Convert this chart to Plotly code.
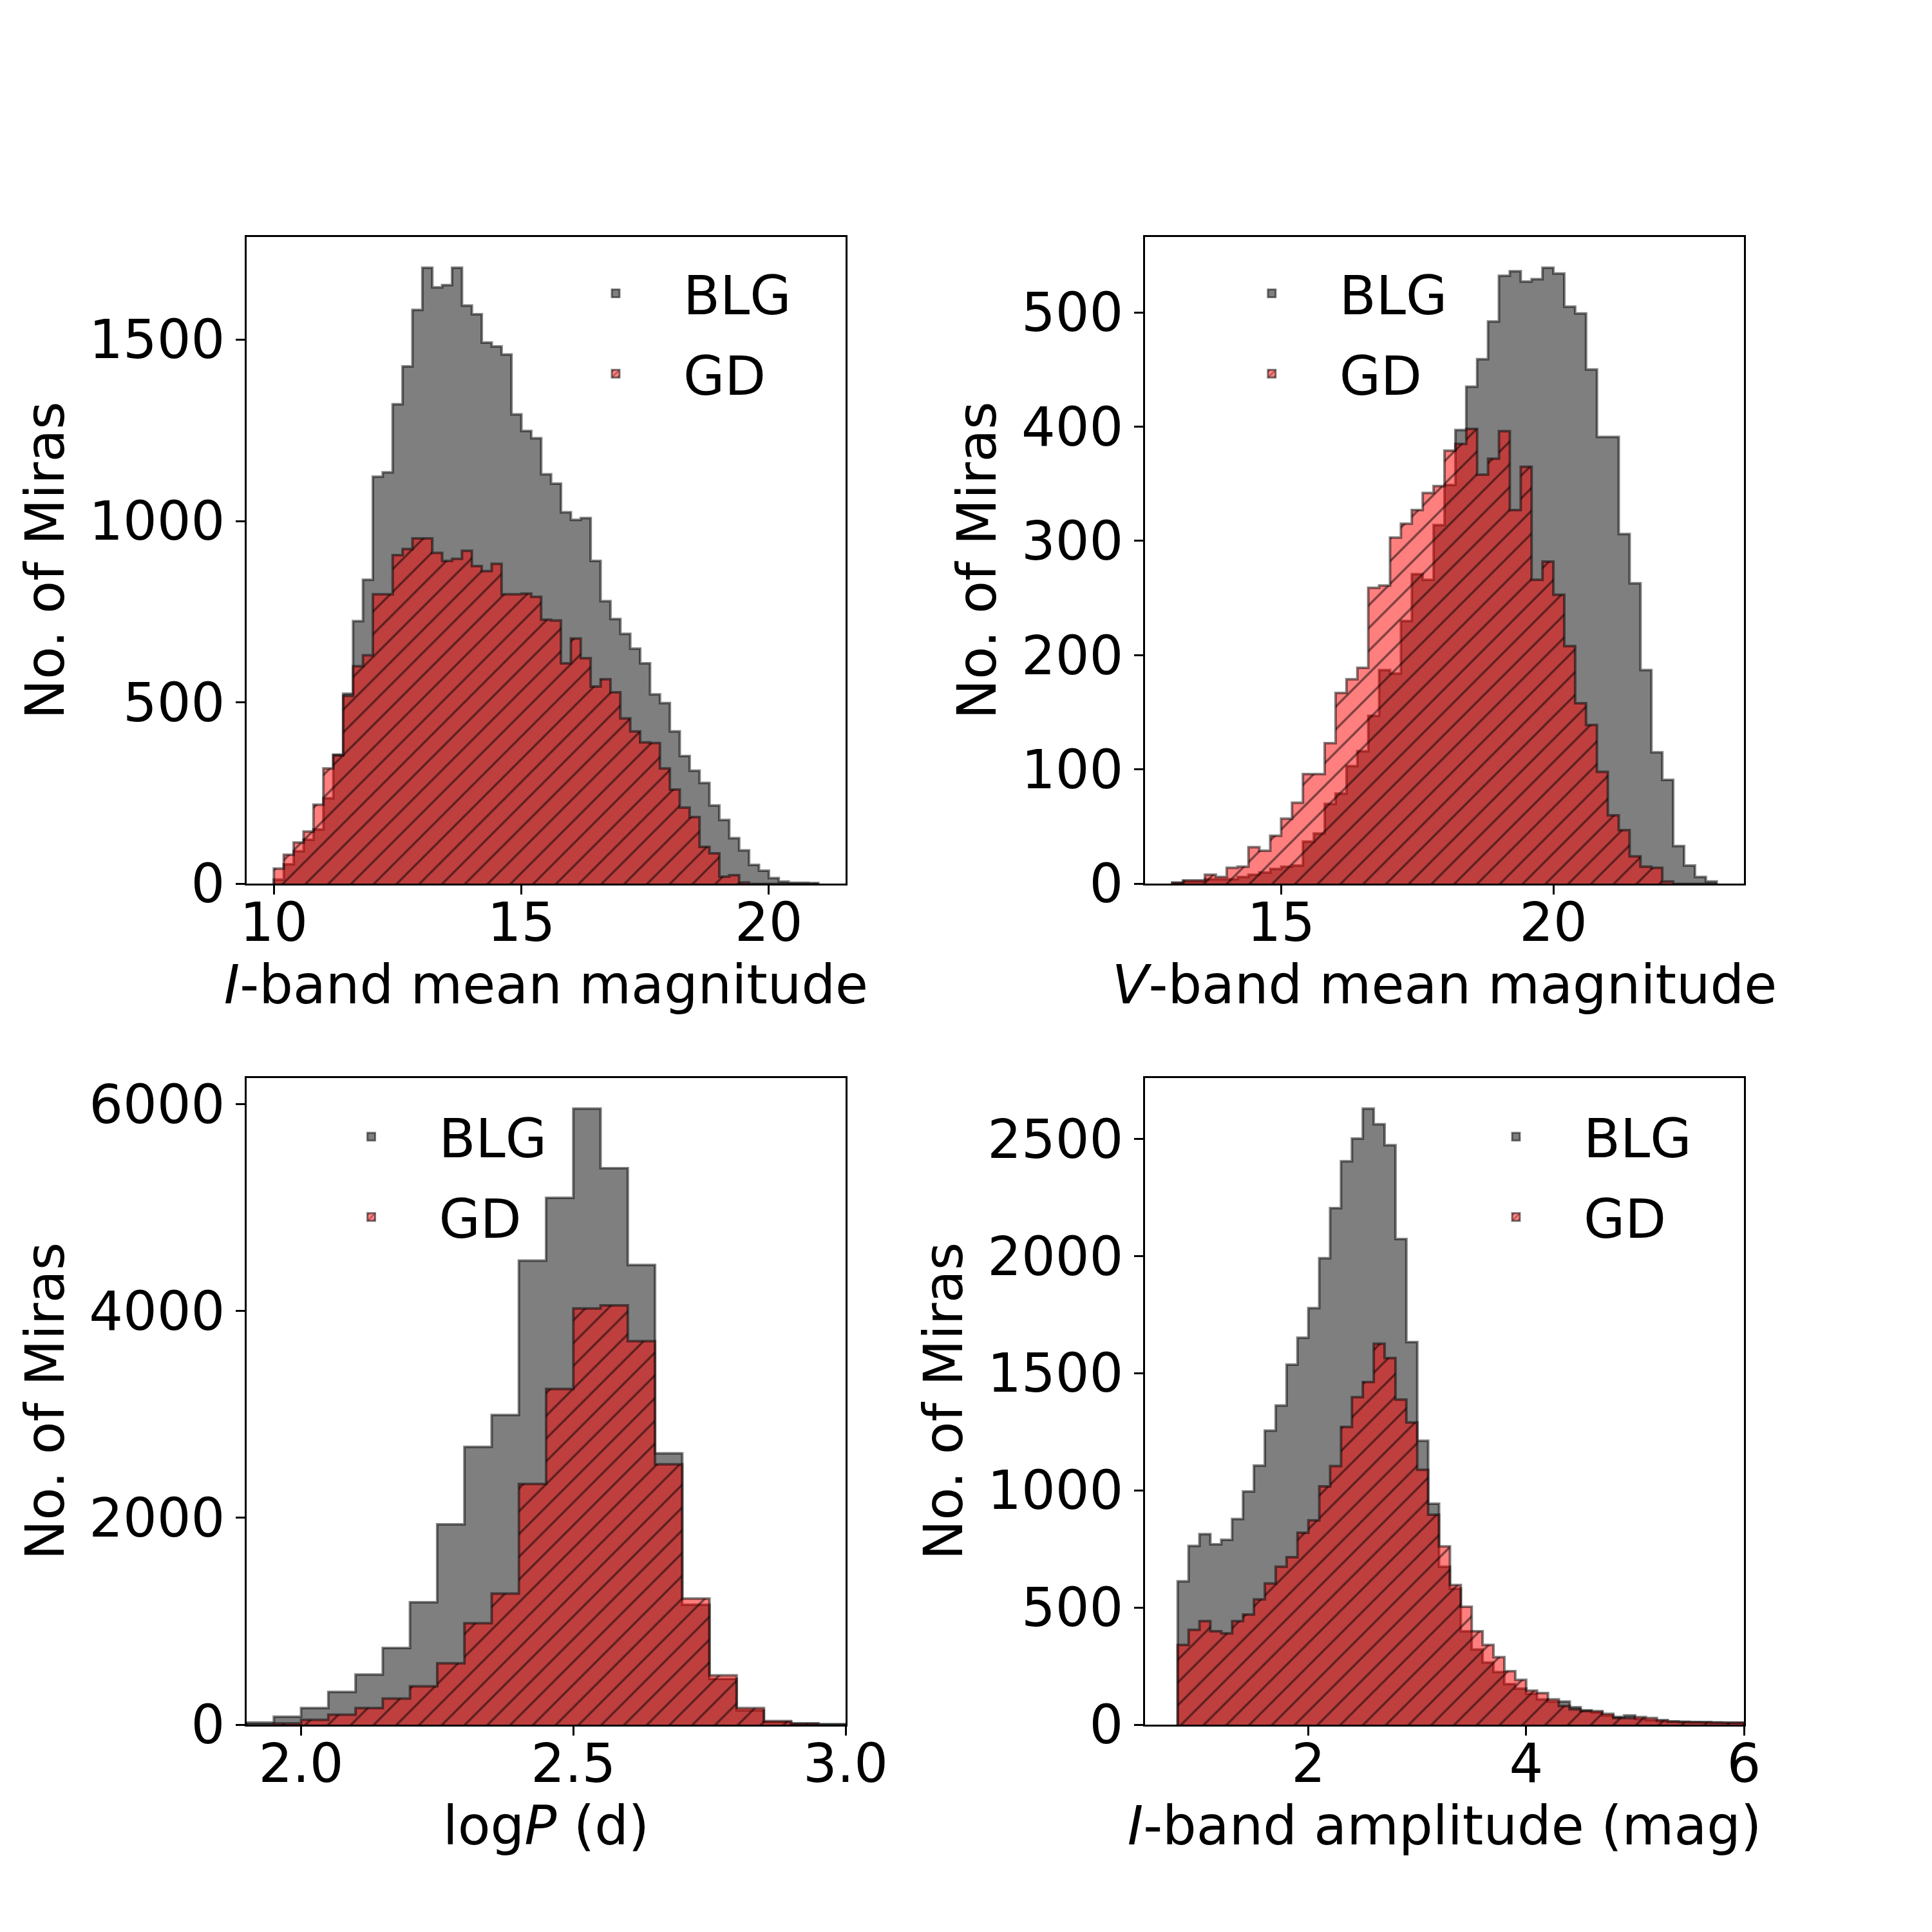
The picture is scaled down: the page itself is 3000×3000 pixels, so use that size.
import numpy as np
import plotly.graph_objects as go
from plotly.subplots import make_subplots

# I-band mean magnitude (bins of 0.2 mag from 10.0)
imag_start, imag_width = 10.0, 0.2
imag_blg = [12, 54, 90, 122, 150, 236, 356, 524, 724, 838,
            1122, 1134, 1322, 1426, 1582, 1698, 1644, 1650, 1698, 1594,
            1570, 1492, 1481, 1459, 1294, 1248, 1228, 1129, 1103, 1024,
            1003, 1008, 890, 779, 730, 689, 648, 608, 522, 498,
            420, 352, 312, 278, 216, 176, 126, 92, 52, 36,
            16, 6, 3, 3, 2]
imag_gd = [42, 80, 114, 144, 218, 318, 354, 518, 600, 630,
           798, 798, 906, 923, 952, 952, 912, 890, 896, 918,
           876, 862, 882, 798, 798, 800, 791, 728, 726, 608,
           676, 622, 544, 564, 528, 456, 420, 390, 388, 318,
           260, 210, 184, 102, 84, 20, 24, 4, 0, 0,
           0, 0, 0, 0, 0]

# V-band mean magnitude (bins of 0.2 mag from 13.0)
vmag_start, vmag_width = 13.0, 0.2
vmag_blg = [1, 2, 2, 4, 4, 4, 6, 8, 10, 13,
            15, 16, 37, 44, 70, 79, 103, 116, 147, 187,
            184, 230, 271, 266, 314, 349, 397, 435, 459, 492,
            532, 536, 527, 529, 539, 534, 505, 499, 450, 391,
            391, 306, 263, 187, 115, 91, 33, 16, 6, 2]
vmag_gd = [1, 3, 3, 8, 6, 14, 15, 32, 29, 42,
           57, 71, 96, 96, 123, 167, 179, 189, 259, 261,
           303, 315, 327, 342, 348, 379, 385, 398, 358, 372,
           396, 327, 365, 266, 282, 253, 208, 158, 139, 98,
           60, 47, 24, 15, 14, 2, 0, 0, 0, 0]

# log P (bins of 0.05 dex from 1.90)
logp_start, logp_width = 1.90, 0.05
logp_blg = [21, 76, 160, 316, 484, 741, 1183, 1937, 2686, 2994, 4488,
            5095, 5958, 5381, 4446, 2623, 1160, 442, 139, 25, 12, 4]
logp_gd = [0, 13, 46, 97, 160, 253, 370, 594, 981, 1267, 2328,
           3246, 4025, 4055, 3709, 2518, 1220, 476, 160, 34, 8, 0]

# I-band amplitude (bins of 0.1 mag from 0.8)
amp_start, amp_width = 0.8, 0.1
amp_blg = [612, 763, 813, 770, 789, 878, 995, 1106, 1255, 1362,
           1537, 1652, 1778, 1991, 2205, 2405, 2502, 2630, 2563, 2474,
           2073, 1633, 1212, 943, 674, 581, 399, 321, 265, 225,
           173, 154, 132, 108, 98, 98, 74, 61, 52, 39,
           33, 39, 24, 19, 15, 13, 12, 11, 10, 9,
           8, 8]
amp_gd = [340, 405, 442, 399, 390, 442, 470, 535, 603, 674,
          715, 819, 872, 1017, 1104, 1271, 1398, 1463, 1626, 1565,
          1388, 1290, 1088, 896, 761, 596, 503, 399, 340, 288,
          228, 191, 145, 135, 108, 80, 65, 58, 58, 46,
          28, 28, 32, 28, 19, 13, 12, 10, 10, 9,
          8, 8]

FONT = dict(family="DejaVu Sans", size=83, color="black")
EDGE = "rgba(0,0,0,0.5)"
GRAY = "rgba(0,0,0,0.5)"
RED = "rgba(255,0,0,0.5)"


def step_xy(start, width, counts):
    edges = start + width * np.arange(len(counts) + 1)
    x = np.concatenate([[edges[0]], edges])
    y = np.concatenate([[0], counts, [0]])
    return x, y


panels = [
    (imag_start, imag_width, imag_blg, imag_gd),
    (vmag_start, vmag_width, vmag_blg, vmag_gd),
    (logp_start, logp_width, logp_blg, logp_gd),
    (amp_start, amp_width, amp_blg, amp_gd),
]

fig = make_subplots(rows=2, cols=2)

for i, (start, width, blg, gd) in enumerate(panels):
    r, c = i // 2 + 1, i % 2 + 1
    leg = "legend" if i == 0 else "legend%d" % (i + 1)
    x, y = step_xy(start, width, blg)
    fig.add_trace(go.Scatter(x=x, y=y, mode="lines", line_shape="hv",
                             line=dict(color=EDGE, width=4),
                             fill="tozeroy", fillcolor=GRAY,
                             showlegend=False), row=r, col=c)
    x, y = step_xy(start, width, gd)
    fig.add_trace(go.Scatter(x=x, y=y, mode="lines", line_shape="hv",
                             line=dict(color=EDGE, width=4),
                             fill="tozeroy", fillcolor=RED,
                             fillpattern=dict(shape="/", size=25, solidity=0.14,
                                              fgcolor="black", fgopacity=0.5,
                                              bgcolor=RED, fillmode="overlay"),
                             showlegend=False), row=r, col=c)
    # legend entries
    fig.add_trace(go.Bar(x=[None], y=[None], name="BLG", legend=leg,
                         legendgroup="blg%d" % i,
                         marker=dict(color=GRAY, line=dict(color=EDGE, width=3))),
                  row=r, col=c)
    fig.add_trace(go.Bar(x=[None], y=[None], name="GD", legend=leg,
                         legendgroup="gd%d" % i,
                         marker=dict(color=RED, line=dict(color=EDGE, width=3),
                                     pattern=dict(shape="/", size=8, solidity=0.2,
                                                  fgcolor="black", fgopacity=0.5,
                                                  bgcolor=RED, fillmode="overlay"))),
                  row=r, col=c)

# matplotlib-like subplot grid: left .125, right .9, bottom .11, top .88
xdom = [[0.125, 0.435], [0.59, 0.9]]
ydom = [[0.5452, 0.88], [0.11, 0.4448]]
xtitles = ["<i>I</i>-band mean magnitude", "<i>V</i>-band mean magnitude",
           "log<i>P</i> (d)", "<i>I</i>-band amplitude (mag)"]
xranges = [[9.45, 21.55], [12.5, 23.5], [1.9, 3.0], [0.5, 6.0]]
xticks = [[10, 15, 20], [15, 20], [2.0, 2.5, 3.0], [2, 4, 6]]
xfmt = ["d", "d", ".1f", "d"]
ydtick = [500, 100, 2000, 500]

axis_style = dict(showline=True, mirror=True, linecolor="black", linewidth=3,
                  ticks="outside", ticklen=14, tickwidth=3, tickcolor="black",
                  showgrid=False, zeroline=False, tickfont=FONT, automargin=False)

for i in range(4):
    r, c = i // 2, i % 2
    counts = panels[i][2] + panels[i][3]
    fig.update_xaxes(domain=xdom[c], range=xranges[i], tickvals=xticks[i],
                     tickformat=xfmt[i], ticklabelstandoff=-28,
                     title=dict(text=xtitles[i], font=FONT, standoff=0),
                     row=r + 1, col=c + 1, **axis_style)
    fig.update_yaxes(domain=ydom[r], range=[0, max(counts) * 1.05],
                     dtick=ydtick[i], tick0=0,
                     title=dict(text="No. of Miras", font=FONT, standoff=12),
                     row=r + 1, col=c + 1, **axis_style)

legend_style = dict(font=FONT, bgcolor="rgba(0,0,0,0)", xanchor="left",
                    yanchor="top", itemwidth=200, tracegroupgap=14)
fig.update_layout(
    width=3000, height=3000,
    margin=dict(l=0, r=0, t=0, b=0),
    paper_bgcolor="white", plot_bgcolor="white",
    barmode="overlay",
    legend=dict(x=0.281, y=0.871, **legend_style),
    legend2=dict(x=0.6206, y=0.871, **legend_style),
    legend3=dict(x=0.1545, y=0.4345, **legend_style),
    legend4=dict(x=0.747, y=0.4345, **legend_style),
)

fig.write_html("out.html")
